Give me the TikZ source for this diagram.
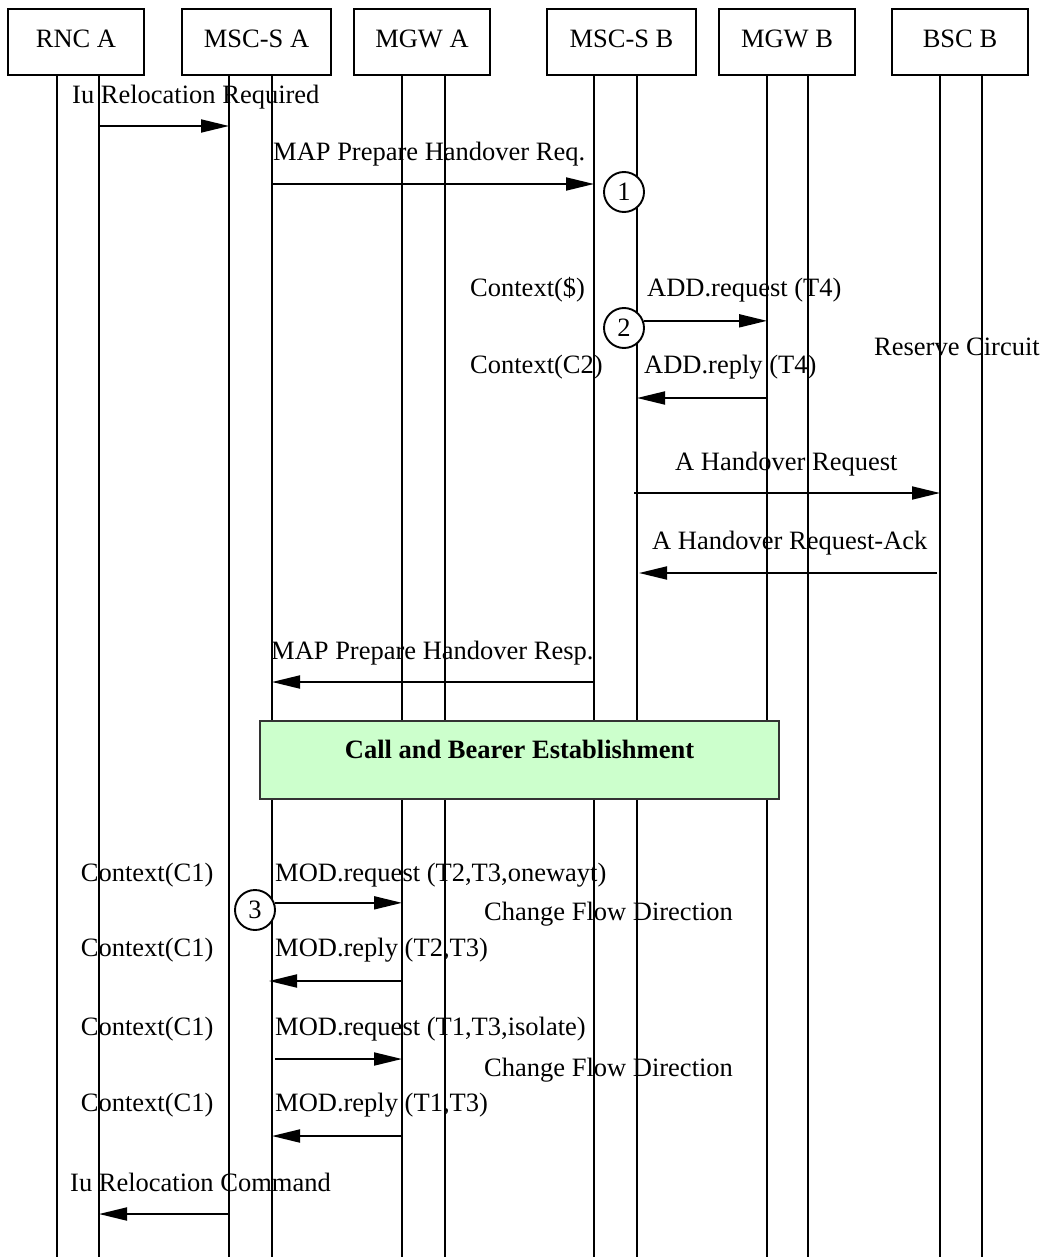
\documentclass[tikz,border=0pt]{standalone}
\usepackage{fontspec}
\setmainfont{Liberation Serif}
\usetikzlibrary{arrows.meta}
\definecolor{phasegreen}{HTML}{CCFFCC}
\definecolor{phaseborder}{HTML}{333333}
\begin{document}
\begin{tikzpicture}[x=1pt,y=-1pt,
  every node/.style={font=\fontsize{26.5}{30}\selectfont},
  actor/.style={draw,line width=1.9pt,fill=white,minimum height=66pt,inner sep=0pt,text height=17.5pt,text depth=7pt},
  lifeline/.style={line width=1.9pt},
  msg/.style={line width=1.9pt,-{Triangle[length=28pt,width=13pt]}},
  lbl/.style={inner sep=0pt,anchor=base west},
  num/.style={draw,circle,line width=1.9pt,fill=white,minimum size=40pt,inner sep=0pt},
  phase/.style={draw=phaseborder,line width=1.9pt,fill=phasegreen,minimum width=519pt,minimum height=78.3pt,inner sep=0pt,text height=18pt,text depth=22pt,font=\fontsize{26.5}{30}\selectfont\bfseries}
]
\useasboundingbox (0,0) rectangle (1042,1257);

% lifeline tops
\coordinate (l1) at (57,75);   \coordinate (l2) at (99,75);
\coordinate (l3) at (229,75);  \coordinate (l4) at (272,75);
\coordinate (l5) at (402,75);  \coordinate (l6) at (445,75);
\coordinate (l7) at (594,75);  \coordinate (l8) at (637,75);
\coordinate (l9) at (767,75);  \coordinate (l10) at (808,75);
\coordinate (l11) at (940,75); \coordinate (l12) at (982,75);
\foreach \i in {1,...,12} {
  \coordinate (b\i) at (l\i |- 0,1257);
  \draw[lifeline] (l\i) -- (b\i);
}

% actors
\node[actor,minimum width=136pt] (rnca) at (76,42) {RNC A};
\node[actor,minimum width=149pt] (mscsa) at (256.5,42) {MSC-S A};
\node[actor,minimum width=136pt] (mgwa) at (422,42) {MGW A};
\node[actor,minimum width=149pt] (mscsb) at (621.5,42) {MSC-S B};
\node[actor,minimum width=136pt] (mgwb) at (787,42) {MGW B};
\node[actor,minimum width=136pt] (bscb) at (960,42) {BSC B};

% phase box
\node[phase] (cbe) at (519.5,760) {Call and Bearer Establishment};

% numbered circles
\node[num] (c1) at (624,192) {1};
\node[num] (c2) at (624,328) {2};
\node[num] (c3) at (255,910) {3};

% messages
\draw[msg] (l2 |- 0,126) -- (l3 |- 0,126);
\draw[msg] (l4 |- 0,184) -- (l7 |- 0,184);
\draw[msg] (c2.20) -- (l9 |- c2.20);
\draw[msg] (l9 |- 0,398) -- (l8 |- 0,398);
\draw[msg] ([xshift=-3pt]l8 |- 0,493) -- (l11 |- 0,493);
\draw[msg] ([xshift=-3pt]l11 |- 0,573) -- ([xshift=2pt]l8 |- 0,573);
\draw[msg] (l7 |- 0,682) -- (l4 |- 0,682);
\draw[msg] (c3.20) -- (l5 |- c3.20);
\draw[msg] (l5 |- 0,981) -- ([xshift=-3pt]l4 |- 0,981);
\draw[msg] ([xshift=3pt]l4 |- 0,1059) -- (l5 |- 0,1059);
\draw[msg] (l5 |- 0,1136) -- (l4 |- 0,1136);
\draw[msg] (l3 |- 0,1214) -- (l2 |- 0,1214);

% labels
\node[lbl] (t1) at (72,103.3) {Iu Relocation Required};
\node[lbl] (t2) at (273,161) {MAP Prepare Handover Req.};
\node[lbl] (t3) at (470,296) {Context(\$)};
\node[lbl] (t4) at (647,296) {ADD.request (T4)};
\node[lbl] (t5) at (470,373) {Context(C2)};
\node[lbl] (t6) at (644,373) {ADD.reply (T4)};
\node[lbl] (t7) at (874,355) {Reserve Circuit};
\node[lbl] (t8) at (675,470) {A Handover Request};
\node[lbl] (t9) at (652,549) {A Handover Request-Ack};
\node[lbl] (t10) at (271,659) {MAP Prepare Handover Resp.};
\node[lbl] (t11) at (80.7,881) {Context(C1)};
\node[lbl] (t12) at (275,881) {MOD.request (T2,T3,onewayt)};
\node[lbl] (t13) at (484,920) {Change Flow Direction};
\node[lbl] (t14) at (80.7,956.7) {Context(C1)};
\node[lbl] (t15) at (275,956.7) {MOD.reply (T2,T3)};
\node[lbl] (t16) at (80.7,1035) {Context(C1)};
\node[lbl] (t17) at (275,1035) {MOD.request (T1,T3,isolate)};
\node[lbl] (t18) at (484,1076.7) {Change Flow Direction};
\node[lbl] (t19) at (80.7,1111.7) {Context(C1)};
\node[lbl] (t20) at (275,1111.7) {MOD.reply (T1,T3)};
\node[lbl] (t21) at (70,1191.7) {Iu Relocation Command};
\end{tikzpicture}
\end{document}
